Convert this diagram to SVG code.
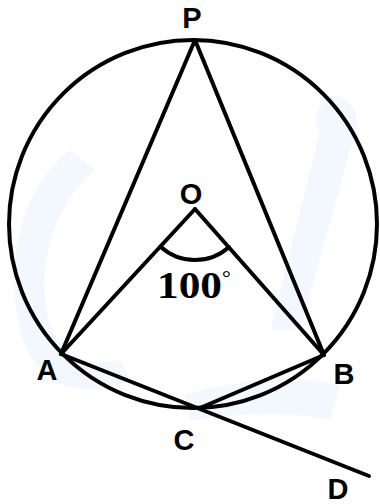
<svg xmlns="http://www.w3.org/2000/svg" width="380" height="504" viewBox="0 0 380 504">
<style>
.ln{stroke:#000;stroke-width:4;fill:none;stroke-linecap:round}
.lb{font-family:"Liberation Sans",Arial,sans-serif;font-weight:bold;font-size:29px;fill:#000;text-anchor:middle}
.wm{fill:#eaf3fb;opacity:0.6}
</style>
<rect width="380" height="504" fill="#fff"/>
<g id="watermark">
<path class="wm" d="M70,150 C20,190 5,260 20,330 C35,390 90,400 130,380 L120,360 C80,370 50,350 45,300 C40,250 60,200 95,170 Z"/>
<path class="wm" d="M335,95 C355,100 365,120 350,150 L300,330 L270,330 L320,130 C310,120 320,100 335,95 Z"/>
<path class="wm" d="M185,395 C230,380 300,375 340,385 L330,420 C280,410 230,415 190,420 Z"/>
</g>
<g id="connectors">
<circle class="ln" cx="193" cy="224" r="184"/>
<line class="ln" x1="195" y1="40" x2="61" y2="354"/>
<line class="ln" x1="195" y1="40" x2="324" y2="355"/>
<line class="ln" x1="195" y1="209" x2="61" y2="354"/>
<line class="ln" x1="195" y1="209" x2="324" y2="355"/>
<line class="ln" x1="61" y1="354" x2="369" y2="476"/>
<line class="ln" x1="200" y1="408" x2="324" y2="355"/>
<path class="ln" d="M160.4,246.5 A51,51 0 0 0 228.8,247.2"/>
</g>
<g id="P"><text class="lb" x="192" y="28">P</text></g>
<g id="O"><text class="lb" x="191" y="204">O</text></g>
<g id="A"><text class="lb" x="47" y="380">A</text></g>
<g id="B"><text class="lb" x="344" y="384">B</text></g>
<g id="C"><text class="lb" x="184" y="450">C</text></g>
<g id="D"><text class="lb" x="338" y="499">D</text></g>
<g id="angle"><text x="157" y="298" font-family="'Liberation Serif','Times New Roman',serif" font-weight="bold" font-size="37" textLength="65" lengthAdjust="spacingAndGlyphs">100</text><text x="222" y="285" font-family="'Liberation Serif','Times New Roman',serif" font-size="22">°</text></g>
</svg>
